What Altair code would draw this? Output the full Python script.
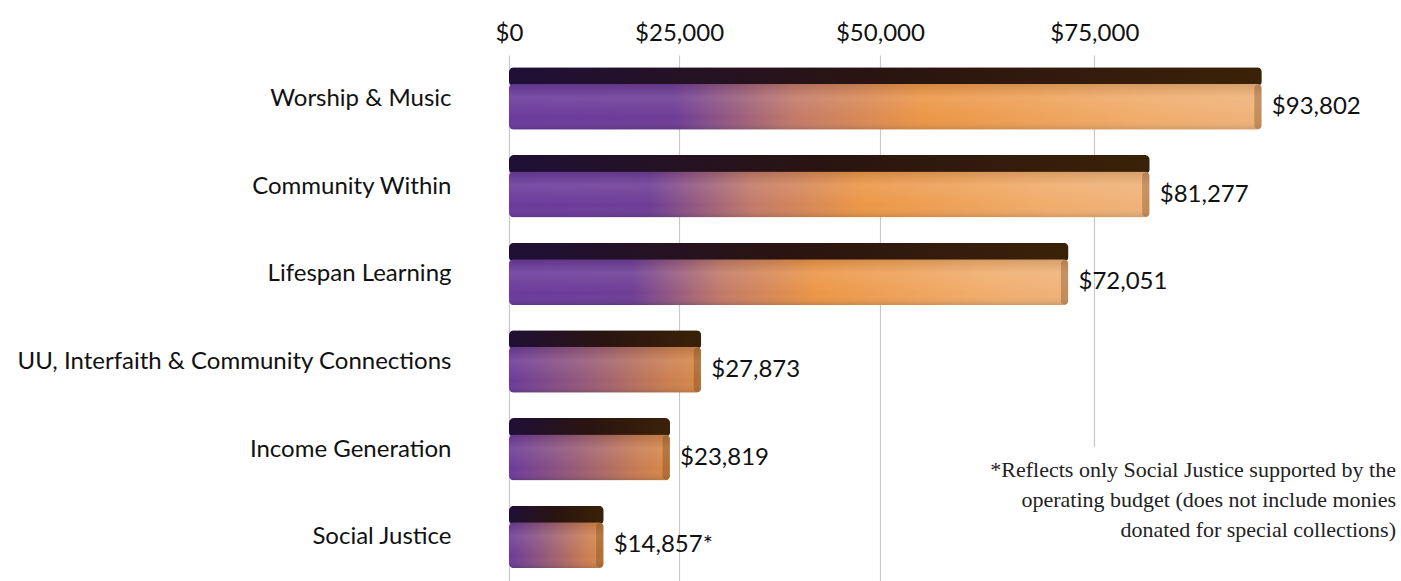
import altair as alt
import pandas as pd

categories = ["Worship & Music", "Community Within", "Lifespan Learning",
              "UU, Interfaith & Community Connections", "Income Generation", "Social Justice"]
values = [93802, 81277, 72051, 27873, 23819, 14857]
value_labels = ["$93,802", "$81,277", "$72,051", "$27,873", "$23,819", "$14,857*"]
tick_values = [0, 25000, 50000, 75000]
footnote_lines = ["*Reflects only Social Justice supported by the",
                  "operating budget (does not include monies",
                  "donated for special collections)"]

df = pd.DataFrame({"category": categories, "value": values, "label": value_labels})
note_df = pd.DataFrame({"note": ["\n".join(footnote_lines)]})

SANS = "Lato"
SERIF = "Liberation Serif"

x_enc = alt.X("value:Q",
              scale=alt.Scale(type="pow", exponent=1.125, domain=[0, 100000], nice=False),
              axis=alt.Axis(orient="top", values=tick_values, title=None,
                            labelExpr="'$' + format(datum.value, ',')",
                            domain=False, ticks=False, grid=True, gridColor="#c8c8c8",
                            gridWidth=1.2, labelFontSize=24, labelFont=SANS,
                            labelColor="#111111", labelPadding=10, labelFlush=False,
                            labelOverlap=False))
y_enc = alt.Y("category:N", sort=categories,
              axis=alt.Axis(title=None, domain=False, ticks=False, labelFontSize=24,
                            labelFont=SANS, labelColor="#111111", labelPadding=58,
                            labelLimit=700, grid=False))

top_grad = alt.Gradient(gradient="linear", x1=0, x2=1, y1=0, y2=0,
                        stops=[alt.GradientStop(color="#1f0f36", offset=0),
                               alt.GradientStop(color="#2a1410", offset=0.5),
                               alt.GradientStop(color="#3a2208", offset=1)])
long_grad = alt.Gradient(gradient="linear", x1=0, x2=1, y1=0, y2=0,
                         stops=[alt.GradientStop(color="#6a3a9c", offset=0),
                                alt.GradientStop(color="#6e3d96", offset=0.22),
                                alt.GradientStop(color="#c27a68", offset=0.38),
                                alt.GradientStop(color="#ec9646", offset=0.55),
                                alt.GradientStop(color="#f0ad6c", offset=0.85),
                                alt.GradientStop(color="#f0b27a", offset=1)])
short_grad = alt.Gradient(gradient="linear", x1=0, x2=1, y1=0, y2=0,
                          stops=[alt.GradientStop(color="#6b3a9a", offset=0),
                                 alt.GradientStop(color="#9c5e74", offset=0.45),
                                 alt.GradientStop(color="#c87c52", offset=0.8),
                                 alt.GradientStop(color="#d98a48", offset=1)])
shade_grad = alt.Gradient(gradient="linear", x1=0, x2=0, y1=0, y2=1,
                          stops=[alt.GradientStop(color="rgba(0,0,0,0.10)", offset=0),
                                 alt.GradientStop(color="rgba(255,255,255,0.10)", offset=0.3),
                                 alt.GradientStop(color="rgba(255,255,255,0.0)", offset=0.75),
                                 alt.GradientStop(color="rgba(0,0,0,0.12)", offset=1)])

base = alt.Chart(df).encode(x=x_enc, y=y_enc)

top_face = base.mark_bar(height=19, yOffset=-22, cornerRadius=5, color=top_grad)
front_long = base.transform_filter("datum.value >= 50000").mark_bar(
    height=46, yOffset=8, cornerRadius=5, color=long_grad)
front_short = base.transform_filter("datum.value < 50000").mark_bar(
    height=46, yOffset=8, cornerRadius=5, color=short_grad)
shade = base.mark_bar(height=46, yOffset=8, cornerRadius=5, color=shade_grad)
cap = base.mark_tick(thickness=7, size=44, yOffset=8, xOffset=-4,
                     color="#5a2a00", opacity=0.28, cornerRadius=3)
labels = base.mark_text(align="left", baseline="middle", dx=10, yOffset=8,
                        fontSize=24, font=SANS, color="#111111").encode(text="label:N")

cover = alt.Chart(note_df).mark_rect(color="white").encode(
    x=alt.value(470), x2=alt.value(900), y=alt.value(392), y2=alt.value(530))
note = alt.Chart(note_df).mark_text(align="right", baseline="top", lineBreak="\n",
                                    lineHeight=30, fontSize=22, font=SERIF,
                                    color="#222222").encode(
    x=alt.value(887), y=alt.value(405), text="note:N")

chart = alt.layer(top_face, front_long, front_short, shade, cap, labels, cover, note).properties(
    width=809, height=526,
    background="white",
    autosize=alt.AutoSizeParams(type="none"),
    padding={"left": 509, "top": 55, "right": 83, "bottom": 0},
).configure_view(stroke=None)

chart.save("out.html", embed_options={"renderer": "svg", "actions": False})
